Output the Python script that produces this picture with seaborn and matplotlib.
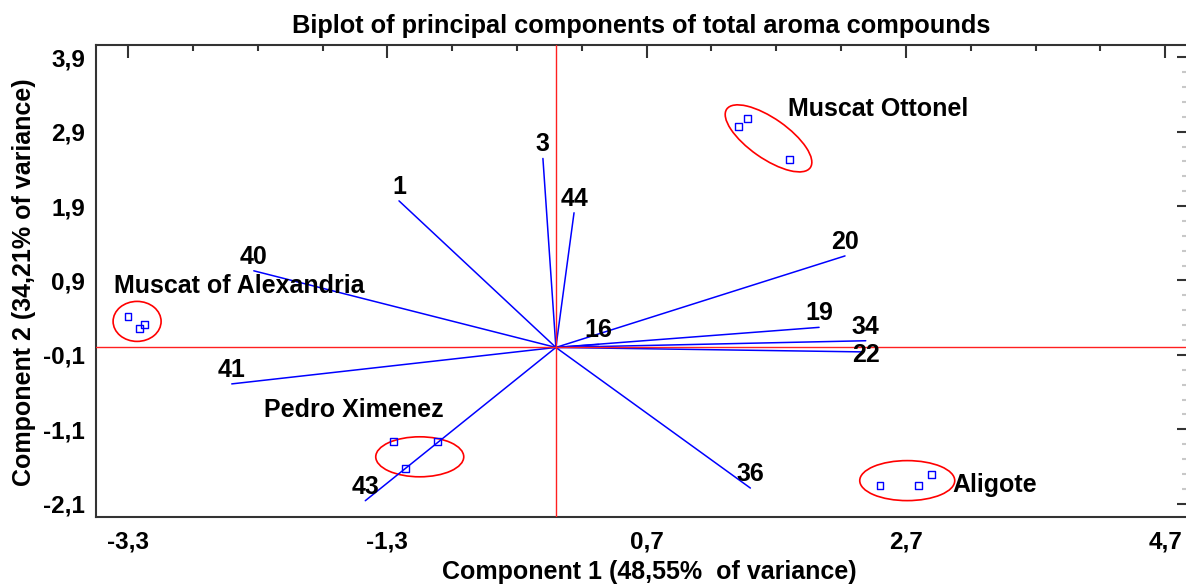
import matplotlib
matplotlib.use('Agg')
import matplotlib.pyplot as plt
from matplotlib.patches import Ellipse
from matplotlib.transforms import ScaledTranslation
from matplotlib.ticker import FuncFormatter
import pandas as pd
import seaborn as sns

# loadings (vector end points) of the aroma compounds
variables = ['1', '3', '44', '40', '41', '43', '20', '19', '34', '22', '36', '16']
load_c1 = [-1.21, -0.10, 0.14, -2.33, -2.50, -1.47, 2.23, 2.03, 2.39, 2.37, 1.50, 0.33]
load_c2 = [1.97, 2.54, 1.81, 1.03, -0.49, -2.06, 1.23, 0.27, 0.09, -0.06, -1.89, 0.04]

# wine scores, three per cultivar
cultivars = ['Muscat Ottonel', 'Muscat of Alexandria', 'Pedro Ximenez', 'Aligote']
score_c1 = [1.41, 1.48, 1.80, -3.30, -3.21, -3.17, -1.25, -0.91, -1.16, 2.50, 2.80, 2.90]
score_c2 = [2.97, 3.08, 2.52, 0.42, 0.26, 0.31, -1.27, -1.27, -1.63, -1.85, -1.85, -1.71]

# group ellipse centres and group label anchors
ell_c1 = [1.64, -3.23, -1.05, 2.71]
ell_c2 = [2.81, 0.35, -1.47, -1.79]
lab_c1 = [1.79, -3.41, -2.25, 3.06]
lab_c2 = [3.21, 0.82, -0.84, -1.85]

x_ticks = [-3.3, -1.3, 0.7, 2.7, 4.7]
y_ticks = [-2.1, -1.1, -0.1, 0.9, 1.9, 2.9, 3.9]

sns.set_style('white')
plt.rcParams['font.family'] = ['Liberation Sans', 'DejaVu Sans']
plt.rcParams['font.weight'] = 'bold'
plt.rcParams['text.color'] = 'black'
plt.rcParams['axes.labelcolor'] = 'black'

DPI = 100
fig = plt.figure(figsize=(11.86, 5.87), dpi=DPI)
ax = fig.add_axes([96 / 1186, 70.3 / 587, 1090 / 1186, 471.7 / 587])

ax.axhline(0, color='#ff2020', lw=1.0, zorder=3)
ax.axvline(0, color='#ff2020', lw=1.0, zorder=3)

rows = []
for v, a, b in zip(variables, load_c1, load_c2):
    rows.append({'var': v, 'c1': 0.0, 'c2': 0.0})
    rows.append({'var': v, 'c1': a, 'c2': b})
vec = pd.DataFrame(rows)
sns.lineplot(data=vec, x='c1', y='c2', units='var', estimator=None, sort=False,
             color='blue', lw=1.1, ax=ax, zorder=2)

for v, a, b in zip(variables, load_c1, load_c2):
    if v == '22':
        off, va = (3, -3), 'center'
    else:
        off, va = (0, 7), 'baseline'
    ax.annotate(v, (a, b), xytext=off, textcoords='offset pixels',
                ha='center', va=va, fontsize=18, fontweight='bold', color='black')

sc = pd.DataFrame({'c1': score_c1, 'c2': score_c2,
                   'cultivar': [c for c in cultivars for _ in range(3)]})
sns.scatterplot(data=sc, x='c1', y='c2', marker='s', s=25, facecolor='none',
                edgecolor='blue', linewidth=1.0, ax=ax, zorder=4)

# ellipse sizes in pixels (width, height, angle)
ell_size = [(102, 40, -35), (48, 40, 0), (88, 40, 0), (95, 40, 0)]
for cx, cy, (w, h, ang) in zip(ell_c1, ell_c2, ell_size):
    e = Ellipse((0, 0), w / DPI, h / DPI, angle=ang, fill=False, ec='red', lw=1.2,
                transform=fig.dpi_scale_trans + ScaledTranslation(cx, cy, ax.transData))
    ax.add_patch(e)

for name, a, b in zip(cultivars, lab_c1, lab_c2):
    ax.text(a, b, name, ha='left', va='center', fontsize=18, fontweight='bold',
            color='black')

ax.set_xlim(-3.547, 4.86)
ax.set_ylim(-2.275, 4.065)
ax.set_xticks(x_ticks)
ax.set_yticks(y_ticks)
ax.set_xticks([-3.3 + 0.5 * i for i in range(17)], minor=True)
ax.set_yticks([-2.1 + 0.2 * i for i in range(31)], minor=True)
fmt = FuncFormatter(lambda v, p: f'{v:.1f}'.replace('.', ','))
ax.xaxis.set_major_formatter(fmt)
ax.yaxis.set_major_formatter(fmt)

for s in ['left', 'bottom', 'top']:
    ax.spines[s].set_color('#333333')
    ax.spines[s].set_linewidth(1.5)
ax.spines['right'].set_visible(False)

ax.tick_params(axis='both', which='both', direction='in', color='#333333', width=1.5,
               top=True, right=True, labelsize=17.5, labelcolor='black')
ax.tick_params(axis='x', which='major', length=9, pad=10)
ax.tick_params(axis='x', which='minor', length=4.5)
ax.tick_params(axis='y', which='major', length=21 / 1.389, pad=8)
ax.tick_params(axis='y', which='minor', length=12 / 1.389)
for t in ax.yaxis.get_major_ticks():
    t.tick2line.set_markersize(9 / 1.389)
for t in ax.yaxis.get_minor_ticks():
    t.tick2line.set_markersize(4 / 1.389)
    t.tick2line.set_markeredgecolor('#c8c8c8')

ax.set_title('Biplot of principal components of total aroma compounds',
             fontsize=18.3, fontweight='bold', pad=8.7, color='black')
ax.set_xlabel('Component 1 (48,55%  of variance)', fontsize=18, fontweight='bold')
ax.set_ylabel('Component 2 (34,21% of variance)', fontsize=18, fontweight='bold')
ax.xaxis.set_label_coords(0.508, -0.092)
ax.yaxis.set_label_coords(-0.055, 0.4976)

fig.savefig('out.png', dpi=DPI)
